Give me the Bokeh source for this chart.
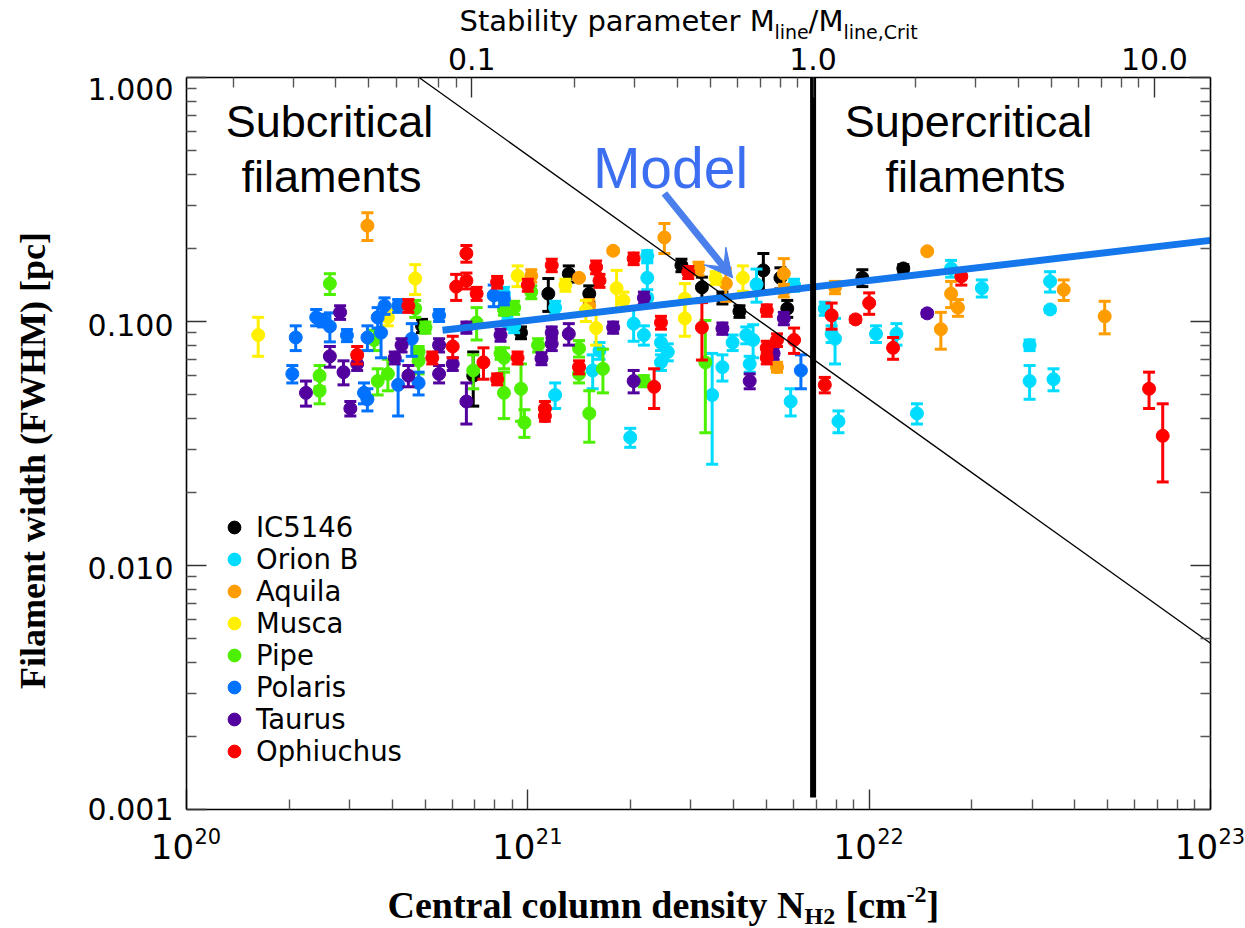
from math import pi, log10
from bokeh.plotting import figure
from bokeh.models import (Range1d, LogAxis, LogScale, FixedTicker, Label, Arrow,
                          VeeHead, Legend, LegendItem, CustomJSTickFormatter)
from bokeh.embed import file_html
from bokeh.resources import INLINE

# ---------------- data (log10 N_H2 [cm^-2], FWHM width [pc], error [pc]) ----------------
ic5146_lognh2 = [20.69, 20.84, 20.98, 21.06, 21.12, 21.18, 21.45, 21.51, 21.57, 21.62, 21.69, 21.74, 21.76, 21.98, 22.10]
ic5146_width = [0.096, 0.060, 0.090, 0.130, 0.157, 0.130, 0.170, 0.138, 0.125, 0.110, 0.162, 0.151, 0.113, 0.151, 0.165]
ic5146_err = [0.006, 0.015, 0.005, 0.020, 0.012, 0.010, 0.010, 0.014, 0.007, 0.006, 0.028, 0.015, 0.009, 0.012, 0.006]

orionb_lognh2 = [20.96, 21.35, 21.35, 21.35, 21.67, 21.78, 20.93, 21.08, 20.94, 21.31, 21.39, 21.41, 21.39, 21.57,
                 21.60, 21.64, 21.66, 21.65, 21.89, 21.90, 21.77, 21.91, 21.08, 21.19, 21.21, 21.30, 21.54, 22.24,
                 22.33, 22.53, 22.53, 21.87, 22.02, 22.08, 22.47, 22.47, 22.54, 22.14, 21.34]
orionb_width = [0.096, 0.186, 0.151, 0.125, 0.142, 0.141, 0.130, 0.114, 0.099, 0.098, 0.082, 0.075, 0.068, 0.065,
                0.082, 0.088, 0.084, 0.067, 0.089, 0.085, 0.047, 0.039, 0.050, 0.063, 0.076, 0.0335, 0.050, 0.165,
                0.137, 0.146, 0.112, 0.113, 0.089, 0.089, 0.080, 0.057, 0.058, 0.042, 0.088]
orionb_err = [0.006, 0.009, 0.023, 0.010, 0.022, 0.008, 0.008, 0.007, 0.006, 0.015, 0.006, 0.006, 0.005, 0.008,
              0.006, 0.007, 0.013, 0.005, 0.007, 0.018, 0.006, 0.004, 0.006, 0.010, 0.006, 0.003, 0.024, 0.013,
              0.011, 0.014, 0.003, 0.007, 0.007, 0.009, 0.004, 0.009, 0.006, 0.004, 0.008]

aquila_lognh2 = [20.53, 21.40, 21.25, 21.15, 21.50, 21.58, 21.75, 21.75, 21.18, 21.73, 21.01, 22.17, 21.90, 22.24,
                 22.26, 22.57, 22.69, 22.21]
aquila_width = [0.247, 0.221, 0.195, 0.151, 0.165, 0.143, 0.157, 0.134, 0.116, 0.065, 0.154, 0.194, 0.138, 0.130,
                0.114, 0.135, 0.105, 0.093]
aquila_err = [0.032, 0.031, 0.004, 0.003, 0.010, 0.022, 0.024, 0.008, 0.007, 0.003, 0.009, 0.003, 0.008, 0.016,
              0.009, 0.013, 0.016, 0.016]

musca_lognh2 = [20.21, 20.67, 20.59, 20.97, 21.26, 21.28, 21.17, 21.20, 21.46, 21.46, 21.55, 21.63, 21.11]
musca_width = [0.088, 0.150, 0.104, 0.154, 0.137, 0.122, 0.111, 0.094, 0.124, 0.103, 0.151, 0.151, 0.141]
musca_err = [0.016, 0.021, 0.008, 0.015, 0.025, 0.010, 0.011, 0.014, 0.019, 0.016, 0.009, 0.018, 0.008]

pipe_lognh2 = [20.42, 20.67, 20.70, 20.55, 20.68, 20.68, 20.39, 20.39, 20.56, 20.59, 20.84, 20.92, 20.93, 20.93,
               20.98, 20.99, 20.85, 20.93, 20.96, 21.01, 21.15, 21.15, 21.18, 21.22, 21.34, 21.52, 21.03]
pipe_width = [0.143, 0.113, 0.0945, 0.084, 0.075, 0.069, 0.060, 0.052, 0.057, 0.061, 0.063, 0.074, 0.071, 0.051,
              0.053, 0.0385, 0.099, 0.112, 0.114, 0.132, 0.0775, 0.061, 0.042, 0.064, 0.057, 0.068, 0.080]
pipe_err = [0.014, 0.009, 0.005, 0.008, 0.004, 0.008, 0.006, 0.006, 0.007, 0.009, 0.010, 0.004, 0.007, 0.011,
            0.014, 0.005, 0.015, 0.006, 0.007, 0.008, 0.006, 0.005, 0.010, 0.013, 0.003, 0.033, 0.005]

polaris_lognh2 = [20.90, 20.93, 20.38, 20.40, 20.42, 20.56, 20.58, 20.62, 20.74, 20.32, 20.47, 20.53, 20.57, 20.66,
                  20.68, 20.31, 20.52, 20.53, 20.62, 21.80]
polaris_width = [0.128, 0.124, 0.104, 0.101, 0.0955, 0.104, 0.116, 0.116, 0.106, 0.086, 0.0877, 0.086, 0.090, 0.085,
                 0.056, 0.061, 0.051, 0.048, 0.055, 0.063]
polaris_err = [0.013, 0.007, 0.008, 0.006, 0.013, 0.010, 0.009, 0.007, 0.006, 0.010, 0.005, 0.010, 0.019, 0.013,
               0.006, 0.005, 0.005, 0.005, 0.014, 0.010]

taurus_lognh2 = [20.45, 20.42, 20.50, 20.61, 20.63, 20.74, 20.74, 20.78, 20.35, 20.46, 20.48, 20.65, 20.82, 20.92,
                 20.82, 21.34, 21.25, 21.12, 21.07, 21.04, 21.07, 21.57, 21.72, 21.75, 21.31, 21.65, 22.17]
taurus_width = [0.109, 0.072, 0.067, 0.071, 0.080, 0.080, 0.061, 0.067, 0.051, 0.062, 0.044, 0.060, 0.047, 0.088,
                0.0945, 0.125, 0.0945, 0.089, 0.090, 0.0705, 0.081, 0.0936, 0.074, 0.103, 0.057, 0.057, 0.108]
taurus_err = [0.007, 0.007, 0.004, 0.004, 0.005, 0.005, 0.005, 0.004, 0.006, 0.007, 0.003, 0.006, 0.009, 0.005,
              0.005, 0.007, 0.005, 0.009, 0.005, 0.004, 0.005, 0.005, 0.004, 0.006, 0.006, 0.004, 0.003]

ophiuchus_lognh2 = [20.82, 20.82, 20.79, 20.85, 20.91, 21.00, 20.65, 20.72, 20.78, 20.50, 20.87, 20.97, 20.91,
                    21.07, 21.31, 21.20, 21.21, 21.47, 21.70, 21.39, 21.51, 21.05, 21.05, 21.15, 21.37, 21.70,
                    21.70, 21.73, 21.78, 21.87, 22.27, 22.00, 21.96, 22.07, 21.89, 22.82, 22.86]
ophiuchus_width = [0.190, 0.147, 0.139, 0.130, 0.145, 0.141, 0.116, 0.071, 0.079, 0.073, 0.068, 0.071, 0.058,
                   0.170, 0.181, 0.167, 0.147, 0.159, 0.111, 0.099, 0.0945, 0.044, 0.041, 0.065, 0.054, 0.078,
                   0.071, 0.084, 0.084, 0.055, 0.153, 0.119, 0.102, 0.078, 0.106, 0.053, 0.034]
ophiuchus_err = [0.015, 0.011, 0.017, 0.008, 0.008, 0.008, 0.007, 0.004, 0.008, 0.006, 0.010, 0.004, 0.003,
                 0.010, 0.010, 0.010, 0.009, 0.009, 0.006, 0.006, 0.025, 0.003, 0.002, 0.004, 0.010, 0.005,
                 0.004, 0.005, 0.010, 0.004, 0.012, 0.012, 0.003, 0.008, 0.013, 0.009, 0.012]

region_names = ["IC5146", "Orion B", "Aquila", "Musca", "Pipe", "Polaris", "Taurus", "Ophiuchus"]
region_colors = ["#000000", "#00DCFF", "#FF9C00", "#FFF000", "#4CF000", "#0072FF", "#52009E", "#FF0000"]
region_data = [
    (ic5146_lognh2, ic5146_width, ic5146_err),
    (orionb_lognh2, orionb_width, orionb_err),
    (aquila_lognh2, aquila_width, aquila_err),
    (musca_lognh2, musca_width, musca_err),
    (pipe_lognh2, pipe_width, pipe_err),
    (polaris_lognh2, polaris_width, polaris_err),
    (taurus_lognh2, taurus_width, taurus_err),
    (ophiuchus_lognh2, ophiuchus_width, ophiuchus_err),
]

n_crit = 6.85e21          # column density where M_line / M_line,crit = 1
jeans_const = 4.8e20      # thin line: width = jeans_const / N_H2
model_lognh2 = [20.75, 23.0]
model_width = [0.092, 0.215]

x_major = [1e20, 1e21, 1e22, 1e23]
x_exponents = ["20", "21", "22", "23"]
y_major = [1e-3, 1e-2, 1e-1, 1.0]
y_tick_labels = ["0.001", "0.010", "0.100", "1.000"]
stab_major = [0.1, 1.0, 10.0]

X_LO, X_HI = 1e20, 1e23
Y_LO, Y_HI = 1e-3, 1.0

# ---------------- layout (canvas pixels) ----------------
FW, FH = 1245, 928
BOX_L, BOX_R, BOX_T, BOX_B = 186, 1210, 77, 809
DX = (BOX_R - BOX_L) / log10(X_HI / X_LO)
DY = (BOX_B - BOX_T) / log10(Y_HI / Y_LO)
x_start = X_LO * 10 ** (-BOX_L / DX)
x_end = X_HI * 10 ** ((FW - BOX_R) / DX)
y_start = Y_LO * 10 ** (-(FH - BOX_B) / DY)
y_end = Y_HI * 10 ** (BOX_T / DY)

p = figure(width=FW, height=FH, x_axis_type="log", y_axis_type="log",
           x_range=Range1d(x_start, x_end), y_range=Range1d(y_start, y_end),
           output_backend="svg", toolbar_location=None,
           min_border_left=0, min_border_right=0, min_border_top=0, min_border_bottom=0)
p.grid.visible = False
p.outline_line_color = None
p.background_fill_color = "white"
p.border_fill_color = "white"

NUM_FONT = "DejaVu Sans"
SERIF = "Liberation Serif"
SANS = "Liberation Sans"
MID = {NUM_FONT: 0.346, SERIF: 0.3375, SANS: 0.3465}   # baseline -> middle of the font box, in em
EMPTY = CustomJSTickFormatter(code="return '';")


def minors(lo_exp, hi_exp):
    return [m * 10.0 ** k for k in range(lo_exp, hi_exp) for m in range(2, 10)]


def style_axis(ax, maj, mnr):
    ax.major_tick_in = maj
    ax.major_tick_out = 0
    ax.minor_tick_in = mnr
    ax.minor_tick_out = 0
    ax.axis_line_color = "black"
    ax.axis_line_width = 1.6
    ax.major_tick_line_color = "#333333"
    ax.minor_tick_line_color = "#555555"
    ax.major_tick_line_width = 1.4
    ax.minor_tick_line_width = 1.4
    ax.major_label_text_color = "black"


# bottom axis (labels drawn below as 10 + raised exponent)
xb = p.xaxis[0]
xb.fixed_location = Y_LO
xb.bounds = (X_LO, X_HI)
xb.ticker = FixedTicker(ticks=x_major, minor_ticks=minors(20, 23))
xb.formatter = EMPTY
style_axis(xb, 20, 10)

# left axis (labels drawn as annotations)
yl = p.yaxis[0]
yl.fixed_location = X_LO
yl.bounds = (Y_LO, Y_HI)
yl.ticker = FixedTicker(ticks=y_major, minor_ticks=minors(-3, 0))
yl.formatter = EMPTY
style_axis(yl, 20, 10)

# right axis (ticks only)
yr = LogAxis(fixed_location=X_HI, bounds=(Y_LO, Y_HI),
             ticker=FixedTicker(ticks=y_major, minor_ticks=minors(-3, 0)), formatter=EMPTY)
style_axis(yr, 20, 10)
p.add_layout(yr, "right")

# top axis: stability parameter
p.extra_x_ranges = {"stab": Range1d(x_start / n_crit, x_end / n_crit)}
p.extra_x_scales = {"stab": LogScale()}
stab_minor = [v for v in minors(-2, 1) if X_LO / n_crit <= v <= X_HI / n_crit]
xt = LogAxis(x_range_name="stab", fixed_location=Y_HI, bounds=(X_LO / n_crit, X_HI / n_crit),
             ticker=FixedTicker(ticks=stab_major, minor_ticks=stab_minor),
             formatter=CustomJSTickFormatter(code="return tick.toFixed(1);"))
xt.major_label_text_font = NUM_FONT
xt.major_label_text_font_size = "30px"
xt.major_label_standoff = 8
style_axis(xt, 20, 10)
p.add_layout(xt, "above")

# ---------------- data points ----------------
legend_items = []
for name, color, (lgn, wid, err) in zip(region_names, region_colors, region_data):
    xs = [10.0 ** v for v in lgn]
    lo = [w - e for w, e in zip(wid, err)]
    hi = [w + e for w, e in zip(wid, err)]
    p.segment(x0=xs, y0=lo, x1=xs, y1=hi, line_color=color, line_width=3)
    p.scatter(x=xs + xs, y=lo + hi, marker="dash", size=12, line_color=color, line_width=3)
    r = p.scatter(x=xs, y=wid, marker="circle", size=13, fill_color=color, line_color=color)
    legend_items.append(LegendItem(label=name, renderers=[r]))

# model line, Jeans line, critical line
p.line(x=[10.0 ** v for v in model_lognh2], y=model_width, line_color="#1577EC", line_width=7)
p.line(x=[jeans_const / Y_HI, X_HI], y=[Y_HI, jeans_const / X_HI], line_color="black", line_width=1.3)
p.line(x=[n_crit, n_crit], y=[1.12e-3, Y_HI], line_color="black", line_width=6)

# ---------------- legend ----------------
legend = Legend(items=legend_items, location=(214, 161), orientation="vertical",
                glyph_width=40, glyph_height=32, label_height=32, spacing=0,
                padding=0, margin=0, label_standoff=2,
                border_line_color=None, background_fill_alpha=0,
                label_text_font=NUM_FONT, label_text_font_size="27.5px", label_text_color="black")
p.add_layout(legend)


# ---------------- text annotations (canvas px; y is the text baseline) ----------------
def txt(text, cx, base_y, size, font, color="black", align="left", style="normal", angle=0.0, centered=False):
    mid_y = base_y if centered else base_y - MID[font] * size
    p.add_layout(Label(x=X_LO, y=Y_HI, x_offset=cx - BOX_L, y_offset=BOX_T - mid_y, text=text,
                       text_font=font, text_font_size=f"{size}px", text_color=color,
                       text_align=align, text_baseline="middle", text_font_style=style,
                       angle=angle))


# y tick labels (the top one sits a little below its tick, as in the original)
for yv, lab, dy in zip(y_major, y_tick_labels, [1, -2, -3, -11]):
    p.add_layout(Label(x=X_LO, y=yv, x_offset=-13, y_offset=dy, text=lab, text_align="right",
                       text_baseline="middle", text_font=NUM_FONT, text_font_size="30px",
                       text_color="black"))

# x tick labels: "10" with a raised exponent, the pair centred on the tick
for xv, ex in zip(x_major, x_exponents):
    p.add_layout(Label(x=xv, y=Y_LO, x_offset=-14, y_offset=BOX_B - 845.5, text="10",
                       text_align="center", text_baseline="middle", text_font=NUM_FONT,
                       text_font_size="34px", text_color="black"))
    p.add_layout(Label(x=xv, y=Y_LO, x_offset=8, y_offset=BOX_B - 835.5, text=ex,
                       text_align="left", text_baseline="middle", text_font=NUM_FONT,
                       text_font_size="21px", text_color="black"))

txt("Subcritical", 329, 137, 45, SANS, align="center")
txt("filaments", 331, 192, 45, SANS, align="center")
txt("Supercritical", 968, 137, 45, SANS, align="center")
txt("filaments", 975, 192, 45, SANS, align="center")
txt("Model", 670, 187, 57, SANS, color="#3B6EF0", align="center")

p.add_layout(Arrow(end=VeeHead(size=28, fill_color="#4A7FEC", line_color="#4A7FEC"),
                   x_start=10 ** 21.40, y_start=0.335, x_end=10 ** 21.60, y_end=0.151,
                   line_color="#4A7FEC", line_width=7))

# top title: Stability parameter M_line/M_line,Crit
txt("Stability parameter M", 459, 31, 29, NUM_FONT)
txt("line", 774, 38, 19, NUM_FONT)
txt("/", 808, 31, 29, NUM_FONT)
txt("M", 818, 31, 29, NUM_FONT)
txt("line,Crit", 843, 38, 19, NUM_FONT)

# x title
txt("Central column density N", 387, 917, 38, SERIF, style="bold")
txt("H2", 804, 924, 24, SERIF, style="bold")
txt("[cm", 845, 917, 38, SERIF, style="bold")
txt("-2", 906, 902, 24, SERIF, style="bold")
txt("]", 926, 917, 38, SERIF, style="bold")

# y title
txt("Filament width (FWHM) [pc]", 32, 460, 36, SERIF, align="center", style="bold",
    angle=pi / 2, centered=True)

open("out.html", "w").write(file_html(p, INLINE))
